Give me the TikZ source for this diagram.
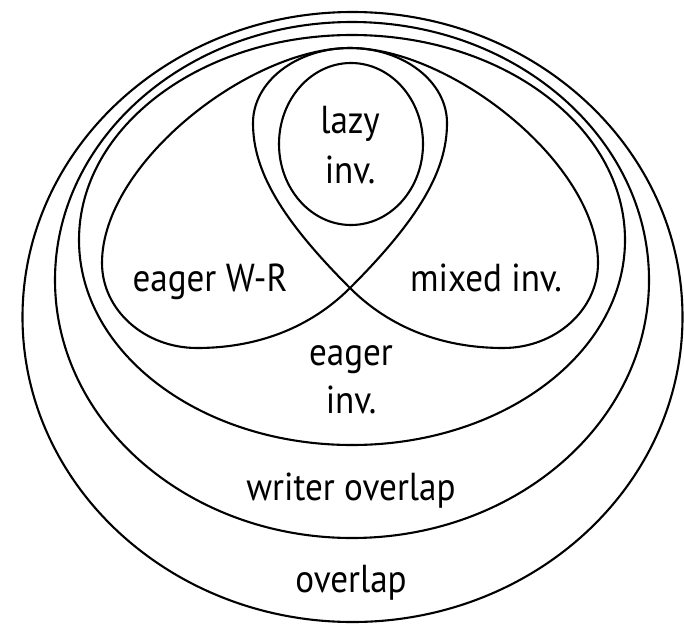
\documentclass[tikz,border=0pt]{standalone}
\usepackage{fontspec}
\setmainfont{PT Sans}[FakeStretch=0.9]
\begin{document}
\begin{tikzpicture}[x=1pt,y=-1pt,
  ring/.style={draw=black,line width=2.1pt},
  lbl/.style={anchor=base,inner sep=0pt,font=\fontsize{39}{46}\selectfont}]
\path[use as bounding box] (0,0) rectangle (684,626);
\fill[white] (0,0) rectangle (684,626);
% nested ellipses
\draw[ring] (352.5,317) ellipse [x radius=330,y radius=305];
\draw[ring] (352,280) ellipse [x radius=297,y radius=258];
\draw[ring] (352,240) ellipse [x radius=273,y radius=205];
% left lobe (eager W-R)
\draw[ring] (350,288) .. controls (420,218) and (447,170) .. (447,123)
  .. controls (447,81.6) and (403.5,48) .. (350,48)
  .. controls (250,48) and (102,163) .. (102,263)
  .. controls (102,310) and (144.6,348) .. (197,348)
  .. controls (257,348) and (310,328) .. cycle;
% right lobe (mixed inv.)
\draw[ring] (350,288) .. controls (280,218) and (253,170) .. (253,123)
  .. controls (253,81.6) and (296.5,48) .. (350,48)
  .. controls (450,48) and (598,163) .. (598,263)
  .. controls (598,310) and (555.4,348) .. (503,348)
  .. controls (443,348) and (390,328) .. cycle;
% lazy
\draw[ring] (351,144) ellipse [x radius=72,y radius=81];
% labels
\node[lbl] (lazy1) at (350,133) {lazy};
\node[lbl] (lazy2) at (350,183) {inv.};
\node[lbl] (ewr) at (210,291) {eager W-R};
\node[lbl] (mix) at (486,291) {mixed inv.};
\node[lbl] (ei1) at (351,365) {eager};
\node[lbl] (ei2) at (351,413) {inv.};
\node[lbl] (wo) at (351,500) {writer overlap};
\node[lbl] (ov) at (351,592) {overlap};
\end{tikzpicture}
\end{document}
